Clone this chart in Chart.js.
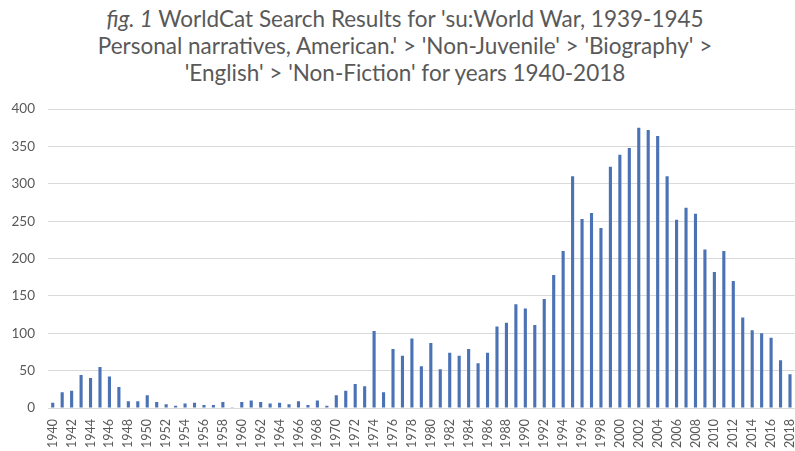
<!DOCTYPE html>
<html>
<head>
<meta charset="utf-8">
<script src="https://cdn.jsdelivr.net/npm/chart.js@4"></script>
<style>
  html, body { margin: 0; padding: 0; background: #fff; overflow: hidden; }
  #wrap { width: 795px; height: 451px; position: relative; overflow: hidden; }
  #title {
    position: absolute; left: 0; top: 5px; width: 810px;
    text-align: center; font-family: Lato, sans-serif; font-size: 22.5px;
    line-height: 27px; color: #595959;
  }
  #box { position: absolute; left: 0; top: 88px; width: 808px; height: 363px; }
</style>
</head>
<body>
<div id="wrap">
  <div id="title"><i>fig. 1</i> WorldCat Search Results for 'su:World War, 1939-1945<br>Personal narratives, American.' &gt; 'Non-Juvenile' &gt; 'Biography' &gt;<br>'English' &gt; 'Non-Fiction' for years 1940-2018</div>
  <div id="box"><canvas id="chart"></canvas></div>
</div>
<script>
const years = []
for (let y = 1940; y <= 2018; y++) years.push(String(y))

const results = [
  7, 21, 23, 44, 40, 55, 42, 28, 9, 9,
  17, 8, 5, 3, 6, 7, 4, 4, 8, 1,
  8, 10, 8, 6, 7, 5, 9, 4, 10, 3,
  17, 23, 32, 29, 103, 21, 79, 70, 93, 56,
  87, 52, 74, 70, 79, 60, 74, 109, 114, 139,
  133, 111, 146, 178, 210, 310, 253, 261, 241, 323,
  339, 348, 375, 372, 364, 310, 252, 268, 260, 212,
  182, 210, 170, 121, 104, 100, 94, 64, 45
]

const yMax = 400
const yStep = 50

new Chart(document.getElementById("chart"), {
  type: "bar",
  data: {
    labels: years,
    datasets: [{
      data: results,
      backgroundColor: "#4a72b5",
      barPercentage: 0.33,
      categoryPercentage: 1
    }]
  },
  options: {
    responsive: true,
    maintainAspectRatio: false,
    animation: false,
    layout: { padding: { left: 8, right: 0, top: 0, bottom: 0 } },
    plugins: {
      legend: { display: false },
      tooltip: { enabled: false }
    },
    scales: {
      x: {
        grid: { display: false },
        border: { display: false },
        afterFit: function(scale) { scale.height = 43 },
        ticks: {
          autoSkip: false,
          minRotation: 90,
          maxRotation: 90,
          color: "#595959",
          padding: 3,
          font: { family: "Lato, sans-serif", size: 12.5 },
          callback: function(value, index) {
            return index % 2 === 0 ? this.getLabelForValue(value) : ""
          }
        }
      },
      y: {
        min: 0,
        max: yMax,
        grid: { color: "#d9d9d9", drawTicks: false },
        border: { display: false },
        afterFit: function(scale) { scale.width = 40 },
        ticks: {
          stepSize: yStep,
          color: "#595959",
          padding: 13,
          font: { family: "Lato, sans-serif", size: 13.5 }
        }
      }
    }
  }
})
</script>
</body>
</html>
